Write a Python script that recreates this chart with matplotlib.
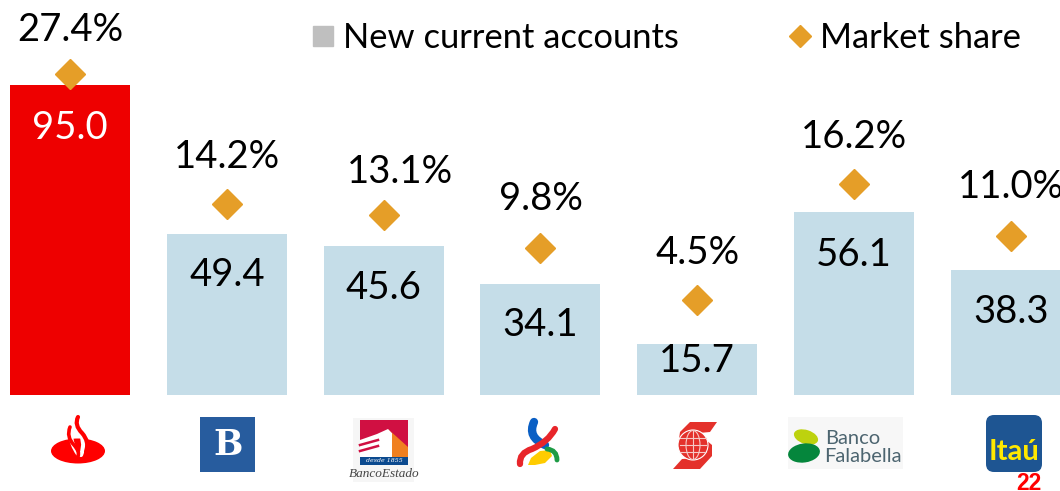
#!/usr/bin/env python3
import matplotlib
matplotlib.use("Agg")
import matplotlib.pyplot as plt
from matplotlib.lines import Line2D
from matplotlib.patches import Circle, Ellipse, FancyBboxPatch, PathPatch, Polygon, Rectangle
from matplotlib.path import Path

plt.rcParams["font.family"] = ["Lato", "DejaVu Sans"]

# Values
banks = ["Santander", "Banco de Chile", "BancoEstado", "BCI", "Scotiabank", "Banco Falabella", "Itau"]
new_accounts = [95.0, 49.4, 45.6, 34.1, 15.7, 56.1, 38.3]
market_share = [27.4, 14.2, 13.1, 9.8, 4.5, 16.2, 11.0]

bar_colors = ["#EE0000"] + ["#C5DDE8"] * 6
value_colors = ["white"] + ["black"] * 6
value_offsets = [-42.5, -41.5, -41.5, -41.5, -17.5, -43, -41.5]
share_offsets = [43.5, 47, 43.5, 48.5, 46.5, 47, 48.5]
share_shifts = [0, 0, 16, 0, 0, 0, 0]
DIAMOND = "#E59E28"

fig = plt.figure(figsize=(10.6, 4.91), dpi=100)

# Bars fill the figure width, baseline 395 px from the top
ax = fig.add_axes([0, 96 / 491, 1, 395 / 491])
x = list(range(len(banks)))
ax.bar(x, new_accounts, width=120 / 156.83, color=bar_colors)
ax.set_xlim(-70 / 156.83, 990 / 156.83)
ax.set_ylim(0, 121.05)
ax.axis("off")

for i, v in enumerate(new_accounts):
    ax.annotate(f"{v:.1f}", (i, v), xytext=(0, value_offsets[i] * 0.72), textcoords="offset points",
                ha="center", va="center", fontsize=27.5, color=value_colors[i])

# Market share on its own scale
ax2 = ax.twinx()
ax2.plot(x, market_share, linestyle="none", marker="D", markersize=15.5, color=DIAMOND, clip_on=False)
ax2.set_ylim(-5.13, 34.89)
ax2.axis("off")

for i, v in enumerate(market_share):
    ax2.annotate(f"{v:.1f}%", (i, v), xytext=(share_shifts[i] * 0.72, share_offsets[i] * 0.72),
                 textcoords="offset points", ha="center", va="center", fontsize=27.5, color="black",
                 annotation_clip=False)

handles = [
    Line2D([], [], linestyle="none", marker="s", markersize=14.5, color="#BFBFBF", label="New current accounts"),
    Line2D([], [], linestyle="none", marker="D", markersize=11, color=DIAMOND, label="Market share"),
]
fig.legend(handles=handles, loc="center", bbox_to_anchor=(663.5 / 1060, 1 - 38.5 / 491), ncol=2, frameon=False,
           fontsize=24.8, handletextpad=0.1, columnspacing=3.0, handlelength=1.0, borderpad=0)

# Logos, drawn in pixel coordinates on a full figure overlay
ov = fig.add_axes([0, 0, 1, 1], zorder=5)
ov.set_xlim(0, 1060)
ov.set_ylim(491, 0)
ov.axis("off")


def stroke(points, color, lw):
    codes = [Path.MOVETO] + [Path.CURVE3] * (len(points) - 1)
    ov.add_patch(PathPatch(Path(points, codes), fill=False, edgecolor=color, lw=lw, capstyle="round"))


# Santander
ov.add_patch(Ellipse((78, 451), 54, 25, color="#FF0000", lw=0))
stroke([(71, 435), (71, 444), (78, 454)], "white", 3)
stroke([(77, 428), (87, 441), (81, 455)], "white", 3)
stroke([(70, 427), (66, 437), (74, 445), (80, 452), (78, 456)], "#FF0000", 2.6)
stroke([(78, 417), (74, 425), (82, 433), (90, 442), (86, 452)], "#FF0000", 3)

# Banco de Chile
ov.add_patch(Rectangle((200, 417), 55, 55, color="#275C9E", lw=0))
ov.text(228, 445, "B", family="DejaVu Serif", weight="bold", fontsize=25, color="white", ha="center", va="center")

# BancoEstado
ov.add_patch(Rectangle((353, 418), 61, 64, color="#F6F6F6", lw=0))
ov.add_patch(Rectangle((360, 420), 48, 38, color="#D01042", lw=0))
ov.add_patch(Polygon([(360, 440), (377, 434), (388, 429), (392, 433), (392, 458), (360, 458)], color="white", lw=0))
ov.add_patch(Polygon([(388, 429), (408, 447), (408, 458), (392, 458), (392, 433)], color="#F08020", lw=0))
for yy in (445, 451):
    ov.plot([360, 378], [yy, yy - 5], color="#D01042", lw=1.8)
ov.add_patch(Rectangle((360, 457), 48, 8, color="#0B4A8F", lw=0))
ov.text(384, 461, "desde 1855", family="DejaVu Serif", style="italic", fontsize=4.5, color="white",
        ha="center", va="center")
ov.text(384, 474, "BancoEstado", family="Liberation Serif", style="italic", fontsize=9.5, color="#444444",
        ha="center", va="center")

# BCI
stroke([(534, 422), (527, 437), (545, 445)], "#0A5FC4", 6)
stroke([(555, 429), (548, 442), (532, 449), (519, 453), (520, 464)], "#E8252A", 4.5)
ov.add_patch(Polygon([(528, 465), (531, 458), (540, 451), (550, 450), (552, 456), (545, 463), (535, 465)],
                     color="#FFCC00", lw=0))
stroke([(547, 449), (557, 450), (557, 460)], "#1E9B45", 3.5)

# Scotiabank
ov.add_patch(Polygon([(717, 422), (690, 422), (680, 432), (678, 446), (683, 450), (688, 434), (710, 432)],
                     color="#E4312B", lw=0))
ov.add_patch(Polygon([(673, 469), (700, 469), (712, 456), (712, 445), (706, 440), (700, 458), (682, 459)],
                     color="#E4312B", lw=0))
ov.add_patch(Circle((693, 445), 15, facecolor="#E4312B", edgecolor="white", lw=0.8))
ov.add_patch(Ellipse((693, 445), 14, 29, fill=False, edgecolor="#F6C9C6", lw=0.8))
for yy in (438, 445, 452):
    ov.plot([680, 706], [yy, yy], color="#F6C9C6", lw=0.8)
ov.plot([693, 693], [431, 459], color="#F6C9C6", lw=0.8)

# Banco Falabella
ov.add_patch(Rectangle((788, 417), 115, 52, color="#F7F7F7", lw=0))
ov.add_patch(Ellipse((806, 437), 25, 14, angle=18, color="#BDD20E", lw=0))
ov.add_patch(Ellipse((804, 453), 32, 19, angle=-8, color="#05863C", lw=0))
ov.text(825, 438, "Banco", fontsize=14.5, color="#4D6570", ha="left", va="center")
ov.text(824, 456, "Falabella", fontsize=14.5, color="#4D6570", ha="left", va="center")

# Itau
ov.add_patch(FancyBboxPatch((993, 422), 42, 43, boxstyle="round,pad=7,rounding_size=8", color="#1E5592", lw=0))
ov.text(1014, 452, "Itaú", weight="bold", fontsize=21, color="#FFE800", ha="center", va="center")

# Page number
ov.text(1029, 483, "22", family="Liberation Sans", weight="bold", fontsize=16.5, color="#FF0000", ha="center", va="center")

fig.savefig("out.png", dpi=100)
